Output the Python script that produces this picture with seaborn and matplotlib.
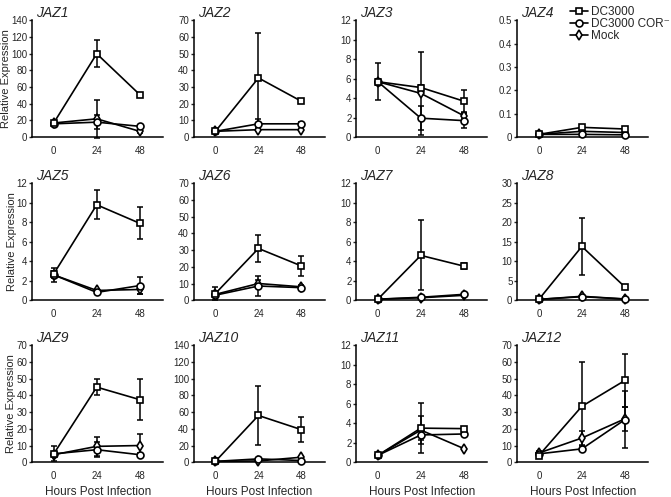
import matplotlib
matplotlib.use("Agg")
import matplotlib.pyplot as plt
from matplotlib.lines import Line2D
import numpy as np
import pandas as pd
import seaborn as sns


genes = ["JAZ1", "JAZ2", "JAZ3", "JAZ4", "JAZ5", "JAZ6",
         "JAZ7", "JAZ8", "JAZ9", "JAZ10", "JAZ11", "JAZ12"]
hours = [0, 24, 48]
treatments = ["DC3000", "DC3000 COR\u207b", "Mock"]
y_max = [140, 70, 12, 0.5, 12, 70, 12, 30, 70, 140, 12, 70]
y_step = [20, 10, 2, 0.1, 2, 10, 2, 5, 10, 20, 2, 10]

dc3000_mean = [
    [17, 100, 51], [3.5, 35.5, 21.5], [5.7, 5.1, 3.7], [0.012, 0.042, 0.035],
    [2.7, 9.8, 7.9], [4, 31, 20.5], [0.1, 4.6, 3.5], [0.2, 13.8, 3.4],
    [5, 45, 37.5], [1, 56, 39], [0.7, 3.5, 3.45], [4, 33.5, 49],
]
dc3000_err = [
    [1.5, 16, 1.5], [0.5, 27, 1], [1.9, 0.3, 1.1], [0.002, 0.004, 0.004],
    [0.3, 1.5, 1.65], [4, 8, 6], [0.05, 3.6, 0.3], [0.1, 7.4, 0.6],
    [4.5, 5, 12.5], [1, 35, 15], [0.1, 2.6, 0.2], [1, 26.5, 16],
]
cor_mean = [
    [16, 18, 13], [3.5, 8, 8], [5.7, 1.95, 1.7], [0.012, 0.012, 0.01],
    [2.6, 0.8, 1.5], [3, 8.5, 7.5], [0.1, 0.3, 0.6], [0.2, 0.9, 0.3],
    [5, 7.5, 4.5], [1, 4, 2], [0.7, 2.8, 2.9], [5, 8, 25.5],
]
cor_err = [
    [1.5, 8, 2], [0.5, 3, 1], [0.3, 1.25, 0.8], [0.002, 0.002, 0.002],
    [0.7, 0.2, 0.9], [1, 6, 1], [0.05, 0.1, 0.1], [0.1, 0.2, 0.1],
    [1, 4.5, 1], [0.5, 1, 0.5], [0.1, 0.5, 0.2], [1, 1.5, 17],
]
mock_mean = [
    [17, 22, 7], [3.5, 4.5, 4.5], [5.7, 4.5, 2.2], [0.012, 0.025, 0.02],
    [2.6, 1.0, 1.1], [3.5, 10, 8], [0.1, 0.25, 0.5], [0.2, 1.0, 0.3],
    [4.5, 9.5, 10], [1, 1.5, 6], [0.7, 3.3, 1.4], [5.5, 14.5, 26],
]
mock_err = [
    [1, 23, 2], [0.5, 1, 0.5], [0.3, 4.3, 0.3], [0.002, 0.003, 0.003],
    [0.3, 0.2, 0.5], [1, 2, 1], [0.05, 0.1, 0.1], [0.1, 0.2, 0.1],
    [1, 5.5, 7], [0.5, 0.5, 1], [0.1, 1.4, 0.1], [1, 4, 7],
]

rows = []
for g, gene in enumerate(genes):
    for name, means, errs in zip(treatments, [dc3000_mean, cor_mean, mock_mean],
                                 [dc3000_err, cor_err, mock_err]):
        for h, m, e in zip(hours, means[g], errs[g]):
            rows.append({"gene": gene, "treatment": name, "hours": h, "expr": m, "err": e})
df = pd.DataFrame(rows)

sns.set_theme(style="ticks")
plt.rcParams["font.family"] = ["Liberation Sans", "DejaVu Sans"]

markers = {"DC3000": "s", "DC3000 COR\u207b": "o", "Mock": "d"}
fig = plt.figure(figsize=(6.71, 4.97), dpi=100)

lefts = [0.048, 0.289, 0.531, 0.771]
bottoms = [0.724, 0.396, 0.070]
width, height = 0.195, 0.235

for i, gene in enumerate(genes):
    r, c = divmod(i, 4)
    ax = fig.add_axes([lefts[c], bottoms[r], width, height])
    sub = df[df["gene"] == gene]
    for name in treatments[::-1]:
        s = sub[sub["treatment"] == name]
        ax.errorbar(s["hours"], s["expr"], yerr=s["err"], fmt="none", ecolor="black",
                    elinewidth=1.1, capsize=2.5, capthick=1.1, clip_on=False, zorder=1)
    sns.lineplot(data=sub, x="hours", y="expr", style="treatment", style_order=treatments[::-1],
                 markers=markers, dashes=False, color="black", linewidth=1.2,
                 markersize=5, markerfacecolor="white", markeredgecolor="black",
                 markeredgewidth=1.2, legend=False, clip_on=False, ax=ax, zorder=3)

    ax.set_xlim(-12, 61)
    ax.set_ylim(0, y_max[i])
    ax.set_xticks(hours)
    ticks = np.arange(0, y_max[i] + y_step[i] / 2, y_step[i])
    ax.set_yticks(ticks)
    ax.set_yticklabels([f"{v:g}" for v in ticks])
    ax.tick_params(axis="x", length=0, labelsize=7, pad=6)
    ax.tick_params(axis="y", length=2.5, width=1, labelsize=7, pad=1)
    sns.despine(ax=ax)
    for sp in ["left", "bottom"]:
        ax.spines[sp].set_linewidth(1.1)
        ax.spines[sp].set_color("black")
    ax.set_xlabel("Hours Post Infection" if r == 2 else "", fontsize=8.5)
    ax.set_ylabel("Relative Expression" if c == 0 else "", fontsize=8, labelpad=0)
    ax.text(0.03, 1.0, gene, transform=ax.transAxes, fontsize=10, style="italic",
            ha="left", va="bottom")

handles = [Line2D([], [], color="black", lw=1.2, marker=markers[t], markersize=5,
                  markerfacecolor="white", markeredgecolor="black", markeredgewidth=1.2)
           for t in treatments]
fig.legend(handles, treatments, loc="upper left", bbox_to_anchor=(0.84, 1.0),
           frameon=False, fontsize=8.5, handlelength=1.6, handletextpad=0.2,
           labelspacing=0.0, borderaxespad=0.1)

fig.savefig("out.png", dpi=100)
